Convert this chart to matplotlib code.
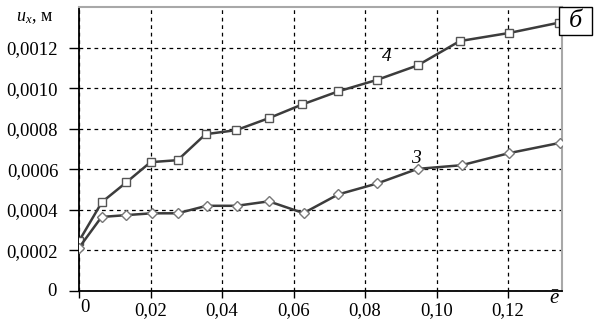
import matplotlib
matplotlib.use("Agg")
import matplotlib.pyplot as plt
from matplotlib.patches import Rectangle

plt.rcParams['font.family'] = ['Liberation Serif', 'DejaVu Serif']
plt.rcParams['mathtext.fontset'] = 'custom'
plt.rcParams['mathtext.rm'] = 'Liberation Serif'
plt.rcParams['mathtext.it'] = 'Liberation Serif:italic'

# curve 4 (squares)
e4 = [0.0, 0.0064, 0.0132, 0.0200, 0.0276, 0.0354, 0.0440, 0.0531, 0.0625,
      0.0725, 0.0834, 0.0947, 0.1065, 0.1203, 0.1343]
u4 = [0.000246, 0.000438, 0.000535, 0.000635, 0.000645, 0.000773, 0.000793,
      0.000852, 0.000920, 0.000984, 0.001041, 0.001112, 0.001232, 0.001272, 0.001323]
# curve 3 (diamonds)
e3 = [0.0, 0.0063, 0.0132, 0.0203, 0.0276, 0.0357, 0.0441, 0.0531, 0.0628,
      0.0725, 0.0834, 0.0947, 0.1070, 0.1204, 0.1345]
u3 = [0.000213, 0.000365, 0.000374, 0.000383, 0.000383, 0.000420, 0.000420,
      0.000442, 0.000384, 0.000476, 0.000530, 0.000602, 0.000620, 0.000680, 0.000730]

xticks = [0.0, 0.02, 0.04, 0.06, 0.08, 0.10, 0.12]
xlabels = ["", "0,02", "0,04", "0,06", "0,08", "0,10", "0,12"]
yticks = [0.0, 0.0002, 0.0004, 0.0006, 0.0008, 0.0010, 0.0012]
ylabels = ["", "0,0002", "0,0004", "0,0006", "0,0008", "0,0010", "0,0012"]

W, H = 595, 322
fig = plt.figure(figsize=(W / 100, H / 100), dpi=100)
ax = fig.add_axes([79 / W, 1 - 291 / H, (562 - 79) / W, (291 - 7) / H])

line_col = '#3c3c3c'
ax.plot(e4, u4, color=line_col, lw=1.8, marker='s', ms=6.0,
        mfc='white', mec='#555555', mew=1.0, zorder=3)
ax.plot(e3, u3, color=line_col, lw=1.8, marker='D', ms=4.6,
        mfc='white', mec='#777777', mew=1.0, zorder=3)

ax.set_xlim(0, 0.1351)
ax.set_ylim(0, 0.0014)
ax.set_xticks(xticks)
ax.set_xticklabels(xlabels)
ax.set_yticks(yticks)
ax.set_yticklabels(ylabels)
ax.tick_params(axis='both', labelsize=13.5, direction='out', width=1.0, color='black')
ax.tick_params(axis='y', length=7, pad=8)
ax.tick_params(axis='x', length=5, pad=3)

ax.grid(True, color='black', linestyle=(0, (3, 3)), lw=0.9)
ax.set_axisbelow(True)

for s in ['left', 'bottom']:
    ax.spines[s].set_color('black')
    ax.spines[s].set_linewidth(1.3)
for s in ['top', 'right']:
    ax.spines[s].set_color('#a8a8a8')
    ax.spines[s].set_linewidth(1.5)

# zero labels, placed slightly off their ticks as in the original
ax.annotate("0", xy=(0, 0), xycoords=('axes fraction', 'data'), xytext=(-16, 0),
            textcoords='offset points', ha='right', va='center', fontsize=13.5)
ax.annotate("0", xy=(0, 0), xycoords=('data', 'axes fraction'), xytext=(4.5, -6),
            textcoords='offset points', ha='center', va='top', fontsize=13.5)
ax.annotate(r"$\bar{e}$", xy=(554 / W, 1 - 300 / H), xycoords='figure fraction',
            ha='center', va='center', fontsize=15)

# axis title and curve numbers
fig.text(16 / W, 1 - 17 / H, r"$u_x$, м", ha='left', va='center', fontsize=13)
ax.text(0.0862, 0.001155, "4", fontstyle='italic', fontsize=14, ha='center', va='center')
ax.text(0.0943, 0.000655, "3", fontstyle='italic', fontsize=14, ha='center', va='center')

# panel letter box
fig.patches.append(Rectangle((559 / W, 1 - 35 / H), 33 / W, 28 / H,
                             transform=fig.transFigure, facecolor='white',
                             edgecolor='black', lw=1.0, zorder=5))
fig.text(575.5 / W, 1 - 21 / H, "б", fontstyle='italic', fontsize=19,
         ha='center', va='center', zorder=6)

fig.savefig("out.png", dpi=100)
